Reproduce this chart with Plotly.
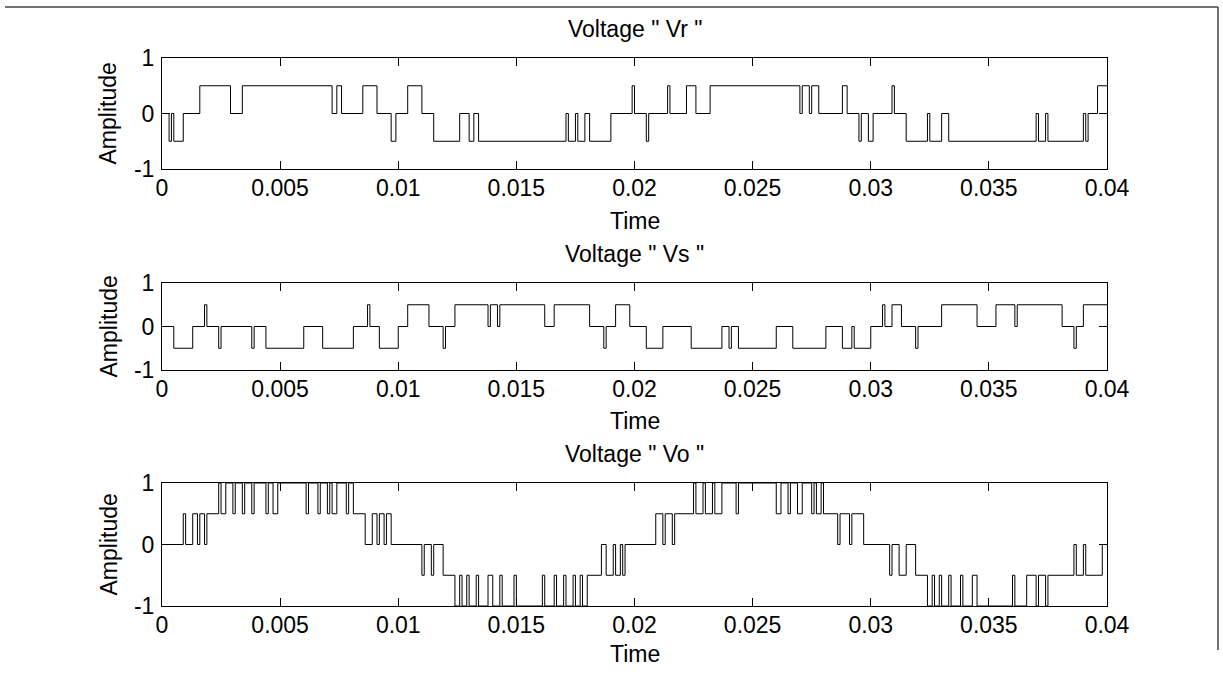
import plotly.graph_objects as go

# ---------------- data ----------------
x_ticks = [0, 0.005, 0.01, 0.015, 0.02, 0.025, 0.03, 0.035, 0.04]
x_tick_text = ["0", "0.005", "0.01", "0.015", "0.02", "0.025", "0.03", "0.035", "0.04"]
y_ticks = [-1, 0, 1]
y_tick_text = ["-1", "0", "1"]
titles = ['Voltage " Vr "', 'Voltage " Vs "', 'Voltage " Vo "']

# switching instants (s) and the level held from each instant on
vr_t = [0, 0.0003, 0.0004, 0.0005, 0.0009, 0.0016, 0.0029, 0.0034, 0.0072, 0.0074,
        0.0076, 0.0085, 0.0091, 0.0097, 0.0099, 0.0104, 0.0110, 0.0115, 0.0126, 0.0130,
        0.0132, 0.0134, 0.0171, 0.0172, 0.0175, 0.0176, 0.0179, 0.0181, 0.0190, 0.0199,
        0.0200, 0.0205, 0.0206, 0.0214, 0.0215, 0.0222, 0.0226, 0.0232, 0.0270, 0.0271,
        0.0274, 0.0275, 0.0278, 0.0288, 0.0290, 0.0295, 0.0296, 0.0299, 0.0301, 0.0309,
        0.0310, 0.0315, 0.0324, 0.0325, 0.0330, 0.0333, 0.0370, 0.0371, 0.0374, 0.0375,
        0.0390, 0.0391, 0.0392, 0.0396, 0.0400]
vr_v = [0, -0.5, 0, -0.5, 0, 0.5, 0, 0.5, 0, 0.5,
        0, 0.5, 0, -0.5, 0, 0.5, 0, -0.5, 0, -0.5,
        0, -0.5, 0, -0.5, 0, -0.5, 0, -0.5, 0, 0.5,
        0, -0.5, 0, 0.5, 0, 0.5, 0, 0.5, 0, 0.5,
        0, 0.5, 0, 0.5, 0, -0.5, 0, -0.5, 0, 0.5,
        0, -0.5, 0, -0.5, 0, -0.5, 0, -0.5, 0, -0.5,
        0, -0.5, 0, 0.5, 0.5]

vs_t = [0, 0.0005, 0.0013, 0.0018, 0.0019, 0.0024, 0.0025, 0.0038, 0.0039, 0.0044,
        0.0060, 0.0068, 0.0081, 0.0087, 0.0088, 0.0092, 0.0100, 0.0104, 0.0113, 0.0119,
        0.0120, 0.0124, 0.0138, 0.0139, 0.0142, 0.0143, 0.0162, 0.0166, 0.0181, 0.0187,
        0.0188, 0.0192, 0.0198, 0.0205, 0.0212, 0.0224, 0.0237, 0.0240, 0.0241, 0.0244,
        0.0260, 0.0267, 0.0281, 0.0288, 0.0292, 0.0293, 0.0300, 0.0305, 0.0306, 0.0309,
        0.0313, 0.0319, 0.0320, 0.0330, 0.0345, 0.0353, 0.0361, 0.0362, 0.0381, 0.0386,
        0.0387, 0.0390, 0.0400]
vs_v = [0, -0.5, 0, 0.5, 0, -0.5, 0, -0.5, 0, -0.5,
        0, -0.5, 0, 0.5, 0, -0.5, 0, 0.5, 0, -0.5,
        0, 0.5, 0, 0.5, 0, 0.5, 0, 0.5, 0, -0.5,
        0, 0.5, 0, -0.5, 0, -0.5, 0, -0.5, 0, -0.5,
        0, -0.5, 0, -0.5, 0, -0.5, 0, 0.5, 0, 0.5,
        0, -0.5, 0, 0.5, 0, 0.5, 0, 0.5, 0, -0.5,
        0, 0.5, 0.5]

vo_t = [0, 0.0009, 0.0010, 0.0013, 0.0015, 0.0016, 0.0018, 0.0019, 0.0024, 0.0025,
        0.0027, 0.0030, 0.0031, 0.0034, 0.0035, 0.0038, 0.0039, 0.0044, 0.0045, 0.0047,
        0.0049, 0.0061, 0.0062, 0.0066, 0.0067, 0.0070, 0.0071, 0.0072, 0.0074, 0.0078,
        0.0079, 0.0081, 0.0086, 0.0089, 0.0091, 0.0092, 0.0094, 0.0095, 0.0097, 0.0110,
        0.0111, 0.0114, 0.0115, 0.0119, 0.0124, 0.0126, 0.0127, 0.0129, 0.0130, 0.0133,
        0.0134, 0.0138, 0.0140, 0.0143, 0.0144, 0.0149, 0.0150, 0.0161, 0.0162, 0.0166,
        0.0167, 0.0170, 0.0171, 0.0174, 0.0175, 0.0177, 0.0178, 0.0180, 0.0186, 0.0188,
        0.0191, 0.0192, 0.0194, 0.0195, 0.0196, 0.0209, 0.0212, 0.0213, 0.0216, 0.0217,
        0.0225, 0.0226, 0.0229, 0.0230, 0.0233, 0.0234, 0.0237, 0.0243, 0.0244, 0.0260,
        0.0262, 0.0265, 0.0266, 0.0269, 0.0271, 0.0275, 0.0276, 0.0277, 0.0279, 0.0280,
        0.0286, 0.0287, 0.0291, 0.0292, 0.0297, 0.0308, 0.0309, 0.0312, 0.0315, 0.0319,
        0.0324, 0.0326, 0.0327, 0.0329, 0.0330, 0.0333, 0.0334, 0.0338, 0.0339, 0.0343,
        0.0345, 0.0360, 0.0361, 0.0366, 0.0370, 0.0371, 0.0374, 0.0375, 0.0386, 0.0387,
        0.0390, 0.0391, 0.0398, 0.0400]
vo_v = [0, 0.5, 0, 0.5, 0, 0.5, 0, 0.5, 1, 0.5,
        1, 0.5, 1, 0.5, 1, 0.5, 1, 0.5, 1, 0.5,
        1, 0.5, 1, 0.5, 1, 0.5, 1, 0.5, 1, 0.5,
        1, 0.5, 0, 0.5, 0, 0.5, 0, 0.5, 0, -0.5,
        0, -0.5, 0, -0.5, -1, -0.5, -1, -0.5, -1, -0.5,
        -1, -0.5, -1, -0.5, -1, -0.5, -1, -0.5, -1, -0.5,
        -1, -0.5, -1, -0.5, -1, -0.5, -1, -0.5, 0, -0.5,
        0, -0.5, 0, -0.5, 0, 0.5, 0, 0.5, 0, 0.5,
        1, 0.5, 1, 0.5, 1, 0.5, 1, 0.5, 1, 0.5,
        1, 0.5, 1, 0.5, 1, 0.5, 1, 0.5, 1, 0.5,
        0, 0.5, 0, 0.5, 0, -0.5, 0, -0.5, 0, -0.5,
        -1, -0.5, -1, -0.5, -1, -0.5, -1, -0.5, -1, -0.5,
        -1, -0.5, -1, -0.5, -1, -0.5, -1, -0.5, 0, -0.5,
        0, -0.5, 0, 0]

series = [(vr_t, vr_v), (vs_t, vs_v), (vo_t, vo_v)]

# ---------------- layout (pixel geometry of the page) ----------------
W, H = 1223, 678
FONT = "Liberation Sans, Arial, Helvetica, sans-serif"
FS = 23


def px_x(p):
    return p / W


def px_y(p):
    return 1 - p / H


x_left, x_right = 162, 1107
panels = [  # top px, bottom px, title centre px, "Time" centre px
    (58, 169, 29, 221),
    (283, 370, 254, 421),
    (483, 606, 454, 654),
]

fig = go.Figure()
for i, (t, v) in enumerate(series):
    fig.add_trace(go.Scatter(
        x=t, y=v, mode="lines", line=dict(color="black", width=1, shape="hv"),
        xaxis=f"x{i+1}" if i else "x", yaxis=f"y{i+1}" if i else "y",
        showlegend=False, hoverinfo="skip"))

layout = dict(
    width=W, height=H, margin=dict(l=0, r=0, t=0, b=0),
    paper_bgcolor="white", plot_bgcolor="white",
    font=dict(family=FONT, size=FS, color="black"),
    showlegend=False, template="none",
)
annotations = []
shapes = []
for i, (top, bot, tc, tmc) in enumerate(panels):
    sfx = str(i + 1) if i else ""
    common = dict(showline=True, linecolor="black", linewidth=1, mirror="ticks",
                  ticks="inside", ticklen=8, tickwidth=1, tickcolor="black",
                  showgrid=False, zeroline=False, automargin=False,
                  tickfont=dict(family=FONT, size=FS, color="black"))
    layout["xaxis" + sfx] = dict(
        common, domain=[px_x(x_left), px_x(x_right)], range=[0, 0.04],
        tickvals=x_ticks, ticktext=x_tick_text, anchor="y" + sfx,
        ticklabelstandoff=-2)
    layout["yaxis" + sfx] = dict(
        common, domain=[px_y(bot), px_y(top)], range=[-1, 1],
        tickvals=y_ticks, ticktext=y_tick_text, anchor="x" + sfx,
        ticklabelstandoff=2)
    annotations.append(dict(text=titles[i], xref="x" + sfx + " domain", x=0.5,
                            yref="paper", y=px_y(tc), yanchor="middle",
                            showarrow=False, font=dict(family=FONT, size=FS)))
    annotations.append(dict(text="Time", xref="x" + sfx + " domain", x=0.5,
                            yref="paper", y=px_y(tmc), yanchor="middle",
                            showarrow=False, font=dict(family=FONT, size=FS)))
    annotations.append(dict(text="Amplitude", xref="paper", x=px_x(108),
                            yref="paper", y=px_y((top + bot) / 2),
                            xanchor="center", yanchor="middle", textangle=-90,
                            showarrow=False, font=dict(family=FONT, size=FS)))

# page frame (top and right edges of the scanned figure)
shapes.append(dict(type="line", xref="paper", yref="paper",
                   x0=px_x(5), x1=px_x(1218), y0=px_y(7), y1=px_y(7),
                   line=dict(color="#444", width=1.5)))
shapes.append(dict(type="line", xref="paper", yref="paper",
                   x0=px_x(1218), x1=px_x(1218), y0=px_y(7), y1=px_y(650),
                   line=dict(color="#444", width=1.5)))

layout["annotations"] = annotations
layout["shapes"] = shapes
fig.update_layout(**layout)
fig.write_html(
    "out.html",
    config={"displayModeBar": False},
    post_script="document.body.style.margin='0';document.body.style.overflow='hidden';",
)
